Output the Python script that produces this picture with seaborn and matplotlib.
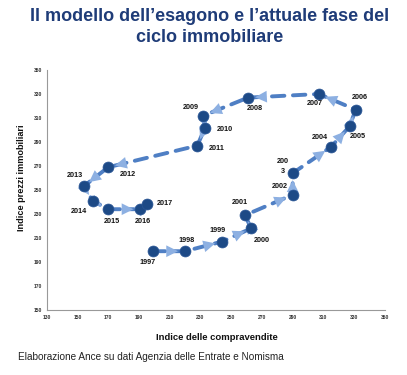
import matplotlib
matplotlib.use('Agg')
import matplotlib.pyplot as plt
import numpy as np
import pandas as pd
import seaborn as sns

# Values
years = [1997, 1998, 1999, 2000, 2001, 2002, 2003, 2004, 2005, 2006, 2007,
         2008, 2009, 2010, 2011, 2012, 2013, 2014, 2015, 2016, 2017]
compravendite = [199, 220, 244, 263, 259, 290, 290, 315, 327, 331, 307,
                 261, 232, 233, 228, 170, 154, 160, 170, 191, 195]
prezzi = [199, 199, 207, 218, 229, 246, 264, 286, 303, 317, 330,
          327, 312, 302, 287, 269, 253, 241, 234, 234, 238]
year_labels = ['1997', '1998', '1999', '2000', '2001', '2002', '200\n3', '2004',
               '2005', '2006', '2007', '2008', '2009', '2010', '2011', '2012',
               '2013', '2014', '2015', '2016', '2017']
x_ticks = list(range(130, 351, 20))
y_ticks = list(range(150, 351, 20))

# label offsets in points (dx, dy) for each year
offsets = [(-4, -8), (1, 8), (-3, 8), (8, -9), (-4, 9), (-9, 6), (-7, 5),
           (-8, 7), (6, -7), (3, 9), (-3, -7), (5, -8), (-9, 6), (14, -1),
           (14, -2), (14, -5), (-6, 8), (-10, -8), (3, -9), (2, -9), (13, 1)]

df = pd.DataFrame({'anno': years, 'x': compravendite, 'y': prezzi})

sns.set_style('white')
plt.rcParams['font.family'] = ['Liberation Sans', 'DejaVu Sans']

fig = plt.figure(figsize=(4.07, 3.75), dpi=100)
ax = fig.add_axes([0.1147, 0.1733, 0.831, 0.64])

# dashed path
sns.lineplot(data=df, x='x', y='y', sort=False, estimator=None, ax=ax,
             color='#4f7fc4', lw=2.8, zorder=1)
ax.lines[0].set_dashes([3.2, 2.2])
ax.lines[0].set_dash_capstyle('round')

# arrow heads
for i in range(len(years) - 1):
    x0, y0 = compravendite[i], prezzi[i]
    x1, y1 = compravendite[i + 1], prezzi[i + 1]
    ax.annotate('', xy=(x1, y1), xytext=(x0 + 0.45 * (x1 - x0), y0 + 0.45 * (y1 - y0)),
                arrowprops=dict(arrowstyle='-|>,head_length=0.85,head_width=0.42',
                                color='#8db0e2', lw=0.01, shrinkA=0, shrinkB=5),
                zorder=2)

sns.scatterplot(data=df, x='x', y='y', ax=ax, color='#1d4a86', s=62,
                edgecolor='#2a5696', linewidth=0.5, zorder=3)

for lab, xx, yy, (dx, dy) in zip(year_labels, compravendite, prezzi, offsets):
    ax.annotate(lab, (xx, yy), xytext=(dx, dy), textcoords='offset points',
                ha='center', va='center', fontsize=5.2, fontweight='bold',
                color='#111111', linespacing=1.6)

ax.set_xlim(130, 350)
ax.set_ylim(150, 350)
ax.set_xticks(x_ticks)
ax.set_yticks(y_ticks)
ax.tick_params(labelsize=3.6, length=2, width=0.5, color='#888888',
               labelcolor='#333333', pad=1.5)
for lab in ax.get_xticklabels() + ax.get_yticklabels():
    lab.set_fontweight('bold')
for s in ['top', 'right']:
    ax.spines[s].set_visible(False)
for s in ['left', 'bottom']:
    ax.spines[s].set_color('#999999')
    ax.spines[s].set_linewidth(0.8)
ax.set_xlabel('')
ax.set_ylabel('')

fig.text(0.054, 0.525, 'Indice prezzi immobiliari', rotation=90, ha='center',
         va='center', fontsize=6.6, fontweight='bold', color='#111111')
fig.text(0.533, 0.101, 'Indice delle compravendite', ha='center', va='center',
         fontsize=6.8, fontweight='bold', color='#111111')
fig.text(0.044, 0.048, 'Elaborazione Ance su dati Agenzia delle Entrate e Nomisma',
         ha='left', va='center', fontsize=7.2, color='#222222')

fig.text(0.515, 0.957, 'Il modello dell\u2019esagono e l\u2019attuale fase del',
         ha='center', va='center', fontsize=13, fontweight='bold', color='#1f3c78')
fig.text(0.515, 0.9, 'ciclo immobiliare', ha='center', va='center',
         fontsize=13, fontweight='bold', color='#1f3c78')

fig.savefig('out.png', dpi=100)
